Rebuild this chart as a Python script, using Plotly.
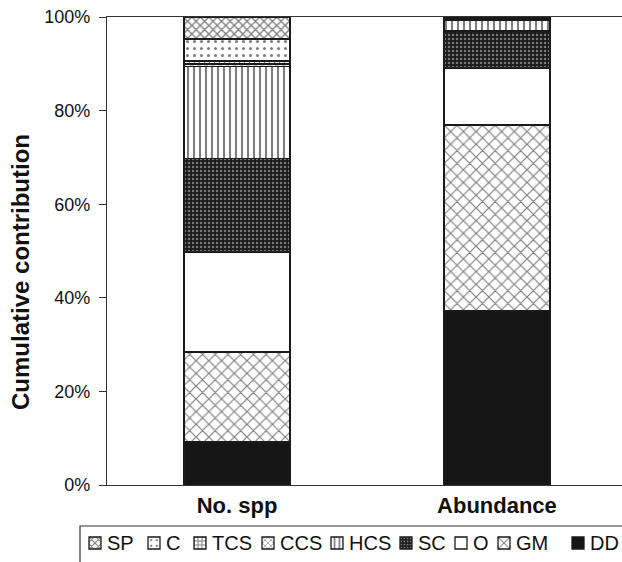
import plotly.graph_objects as go

categories = ["No. spp", "Abundance"]
# stacking order bottom -> top
series_names = ["DD", "GM", "O", "SC", "HCS", "CCS", "TCS", "C", "SP"]
DD = [9.2, 37.2]
GM = [19.2, 39.7]
O = [21.4, 12.2]
SC = [20.0, 7.9]
HCS = [19.6, 2.2]
CCS = [0.55, 0.3]
TCS = [0.65, 0.1]
C = [4.7, 0.2]
SP = [4.7, 0.2]
series_values = [DD, GM, O, SC, HCS, CCS, TCS, C, SP]
y_ticks = [0, 20, 40, 60, 80, 100]
y_tick_labels = ["0%", "20%", "40%", "60%", "80%", "100%"]

FONT = "Liberation Sans, Arial, Helvetica, sans-serif"
W, H = 622, 562
L, R, T, B = 107, 0, 17, 77
PW, PH = W - L - R, H - T - B


def px_x(p):
    return (p - L) / PW


def px_y(p):
    return (H - B - p) / PH


styles = {
    "DD": dict(color="#151515", pattern=dict(shape="")),
    "GM": dict(color="white", pattern=dict(shape="x", fgcolor="#000", bgcolor="white", size=9, solidity=0.25)),
    "O": dict(color="white", pattern=dict(shape="")),
    "SC": dict(color="#1a1a1a", pattern=dict(shape=".", fgcolor="#d8d8d8", bgcolor="#1a1a1a", size=4, solidity=0.3)),
    "HCS": dict(color="white", pattern=dict(shape="|", fgcolor="#000", bgcolor="white", size=6, solidity=0.35)),
    "CCS": dict(color="white", pattern=dict(shape="x", fgcolor="#000", bgcolor="white", size=5, solidity=0.3)),
    "TCS": dict(color="white", pattern=dict(shape="+", fgcolor="#000", bgcolor="white", size=5, solidity=0.45)),
    "C": dict(color="white", pattern=dict(shape=".", fgcolor="#000", bgcolor="white", size=7, solidity=0.15)),
    "SP": dict(color="white", pattern=dict(shape="x", fgcolor="#000", bgcolor="white", size=6, solidity=0.4)),
}

# x pixel where each legend label text starts (reference layout)
legend_text_x = {"SP": 105, "C": 164, "TCS": 210, "CCS": 278, "HCS": 347,
                 "SC": 416, "O": 471, "GM": 514, "DD": 588}
LEG_Y = 543

fig = go.Figure()
legend_layouts = {}
annotations = []
for i, (name, vals) in enumerate(zip(series_names, series_values)):
    st = styles[name]
    lg = "legend" if i == 0 else f"legend{i + 1}"
    fig.add_trace(go.Bar(
        x=categories, y=vals, name=name, width=0.408, legend=lg,
        legendgroup=name,
        marker=dict(color=st["color"], pattern=st["pattern"],
                    line=dict(color="#1a1a1a", width=1.3)),
    ))
    # legend symbol placed just left of its label
    legend_layouts[lg] = dict(
        x=px_x(legend_text_x[name] - 30), y=px_y(LEG_Y),
        xanchor="left", yanchor="middle",
        bgcolor="rgba(0,0,0,0)", borderwidth=0,
        font=dict(size=1, family=FONT, color="rgba(0,0,0,0)"),
        itemwidth=30,
    )
    annotations.append(dict(text=name, xref="paper", yref="paper",
                            x=px_x(legend_text_x[name]), y=px_y(LEG_Y),
                            xanchor="left", yanchor="middle", showarrow=False,
                            font=dict(size=20, family=FONT, color="#111")))

fig.update_layout(**legend_layouts)

annotations.append(dict(text="<b>Cumulative contribution</b>", textangle=-90,
                        xref="paper", yref="paper",
                        x=px_x(20), y=px_y(272),
                        xanchor="center", yanchor="middle", showarrow=False,
                        font=dict(size=24, family=FONT, color="#111")))

fig.update_layout(
    width=W, height=H,
    barmode="stack",
    plot_bgcolor="white", paper_bgcolor="white",
    margin=dict(l=L, r=R, t=T, b=B, autoexpand=False),
    font=dict(family=FONT, color="#111"),
    showlegend=True,
    xaxis=dict(range=[-0.5, 1.481], showline=True, mirror=True, linecolor="#333",
               linewidth=1.2, ticks="", showgrid=False, automargin=False,
               tickfont=dict(size=22, family=FONT, color="#111"),
               tickprefix="<b>", ticksuffix="</b>"),
    yaxis=dict(range=[0, 100], tickmode="array", tickvals=y_ticks, ticktext=y_tick_labels,
               showline=True, linecolor="#333", linewidth=1.2, ticks="outside", ticklen=7,
               tickcolor="#333", showgrid=False, zeroline=False, automargin=False,
               ticklabelstandoff=5,
               tickfont=dict(size=18, family=FONT, color="#111")),
    annotations=annotations,
    shapes=[dict(type="rect", xref="paper", yref="paper",
                 x0=px_x(80), x1=px_x(640),
                 y0=px_y(526), y1=px_y(600),
                 line=dict(color="#333", width=1.2), fillcolor="rgba(0,0,0,0)")],
)

fig.write_html("out.html")
